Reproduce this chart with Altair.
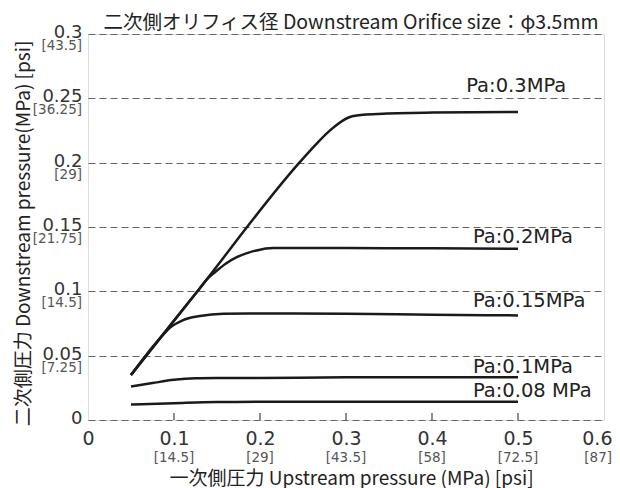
import altair as alt
import pandas as pd

# ---- data ----
p03_x = [0.05, 0.1266, 0.2458, 0.2659, 0.2814, 0.3045, 0.32, 0.343, 0.401, 0.5]
p03_y = [0.035, 0.0995, 0.2, 0.2148, 0.2251, 0.2355, 0.2373, 0.238, 0.2389, 0.2394]

p02_x = [0.05, 0.1266, 0.14, 0.1479, 0.16, 0.173, 0.185, 0.196, 0.2156, 0.25, 0.3, 0.4, 0.5]
p02_y = [0.035, 0.0995, 0.1105, 0.115, 0.1215, 0.1266, 0.1297, 0.1318, 0.1336, 0.1337, 0.1336, 0.1334, 0.1331]

p015_x = [0.05, 0.085, 0.097, 0.11, 0.13, 0.1576, 0.2, 0.3, 0.4, 0.5]
p015_y = [0.035, 0.0645, 0.0726, 0.0775, 0.0808, 0.0826, 0.0828, 0.0826, 0.0818, 0.0813]

p01_x = [0.05, 0.075, 0.1, 0.125, 0.15, 0.2, 0.3, 0.4, 0.5]
p01_y = [0.026, 0.0287, 0.0312, 0.0324, 0.0326, 0.0327, 0.0332, 0.0333, 0.0333]

p008_x = [0.05, 0.1, 0.15, 0.2, 0.3, 0.4, 0.5]
p008_y = [0.012, 0.0131, 0.014, 0.0141, 0.0141, 0.0141, 0.0141]

series_names = ["Pa:0.3MPa", "Pa:0.2MPa", "Pa:0.15MPa", "Pa:0.1MPa", "Pa:0.08 MPa"]
label_x = [0.4398, 0.4476, 0.4476, 0.4476, 0.4476]
label_y = [0.2597, 0.1419, 0.0921, 0.0411, 0.0229]

x_ticks = [0, 0.1, 0.2, 0.3, 0.4, 0.5, 0.6]
x_psi = ["", "[14.5]", "[29]", "[43.5]", "[58]", "[72.5]", "[87]"]
y_ticks = [0, 0.05, 0.1, 0.15, 0.2, 0.25, 0.3]
y_psi = ["", "[7.25]", "[14.5]", "[21.75]", "[29]", "[36.25]", "[43.5]"]

title_text = "二次側オリフィス径 Downstream Orifice size：φ3.5mm"
x_title = "一次側圧力  Upstream pressure (MPa)  [psi]"
y_title = "二次側圧力 Downstream pressure(MPa) [psi]"

# ---- tables ----
rows = []
for name, xs, ys in zip(series_names,
                        [p03_x, p02_x, p015_x, p01_x, p008_x],
                        [p03_y, p02_y, p015_y, p01_y, p008_y]):
    for i, (a, b) in enumerate(zip(xs, ys)):
        rows.append({"series": name, "x": a, "y": b, "order": i})
df = pd.DataFrame(rows)
labels_df = pd.DataFrame({"label": series_names, "x": label_x, "y": label_y})
xt_df = pd.DataFrame({"x": x_ticks, "psi": x_psi})
yt_df = pd.DataFrame({"y": y_ticks, "psi": y_psi})
title_df = pd.DataFrame({"t": [title_text]})

W, H = 516, 386
FONT = "DejaVu Sans"
CJK = "Noto Sans CJK JP"
XMAX = 0.6

xscale = alt.Scale(domain=[0, XMAX], nice=False, zero=False)
yscale = alt.Scale(domain=[0, 0.3], nice=False, zero=False)

last_test = f"datum.value >= {XMAX}"
x_axis = alt.Axis(values=x_ticks, format="~g", grid=False, ticks=False, domain=False,
                  labelFont=FONT, labelFontSize=19, labelColor="#333",
                  labelBaseline="middle", labelPadding=18, labelFlush=False,
                  labelAlign={"condition": {"test": last_test, "value": "right"}, "value": "center"},
                  labelOffset={"condition": {"test": last_test, "value": 8}, "value": 0},
                  title=x_title, titleFont=CJK, titleFontSize=19, titleFontWeight="normal",
                  titleColor="#222", titleX=263, titleY=58, titleBaseline="middle",
                  titleAnchor="middle", titleAlign="center")
y_axis = alt.Axis(values=y_ticks, format="~g", grid=True, gridDash=[7, 4], gridColor="#666",
                  gridWidth=1.1, ticks=False, domain=False,
                  labelFont=FONT, labelFontSize=18, labelColor="#333",
                  labelBaseline="middle", labelPadding=6, labelOffset=-1.5, labelFlush=False,
                  title=y_title, titleFont=CJK, titleFontSize=19, titleFontWeight="normal",
                  titleColor="#222", titleX=-65, titleY=199, titleBaseline="middle",
                  titleAngle=270, titleAnchor="middle", titleAlign="center")

lines = alt.Chart(df).mark_line(interpolate="monotone", color="#1a1a1a", strokeWidth=2.5).encode(
    x=alt.X("x:Q", scale=xscale, axis=x_axis),
    y=alt.Y("y:Q", scale=yscale, axis=y_axis),
    detail="series:N",
    order="order:Q",
)

ticks = alt.Chart(xt_df[(xt_df.x > 0) & (xt_df.x < XMAX)]).mark_rule(color="#444", strokeWidth=1.2).encode(
    x=alt.X("x:Q", scale=xscale),
    y=alt.value(H),
    y2=alt.value(H - 7),
)

xpsi = alt.Chart(xt_df[xt_df.x < XMAX]).mark_text(font=FONT, fontSize=13.5, color="#555",
                                                  baseline="middle").encode(
    x=alt.X("x:Q", scale=xscale),
    y=alt.value(H + 37.5),
    text="psi:N",
)

xpsi_last = alt.Chart(xt_df[xt_df.x >= XMAX]).mark_text(font=FONT, fontSize=13.5, color="#555",
                                                        baseline="middle", align="right",
                                                        dx=8).encode(
    x=alt.X("x:Q", scale=xscale),
    y=alt.value(H + 37.5),
    text="psi:N",
)

ypsi = alt.Chart(yt_df).mark_text(font=FONT, fontSize=13.5, color="#555", baseline="middle",
                                  align="right", dy=12).encode(
    y=alt.Y("y:Q", scale=yscale),
    x=alt.value(-6),
    text="psi:N",
)

curve_labels = alt.Chart(labels_df).mark_text(font=FONT, fontSize=19.5, color="#222",
                                              align="left", baseline="middle").encode(
    x=alt.X("x:Q", scale=xscale),
    y=alt.Y("y:Q", scale=yscale),
    text="label:N",
)

title_mark = alt.Chart(title_df).mark_text(font=CJK, fontSize=19.5, color="#222",
                                           align="center", baseline="middle").encode(
    x=alt.value(263),
    y=alt.value(-11.5),
    text="t:N",
)

chart = alt.layer(lines, ticks, xpsi, xpsi_last, ypsi, curve_labels, title_mark).properties(
    width=W, height=H,
    autosize=alt.AutoSizeParams(type="none"),
    padding={"left": 80, "top": 26, "right": 8, "bottom": 68},
).configure_view(stroke="#444", strokeWidth=1.3).configure(background="white")

chart.save("out.html", embed_options={"renderer": "svg", "actions": False})
